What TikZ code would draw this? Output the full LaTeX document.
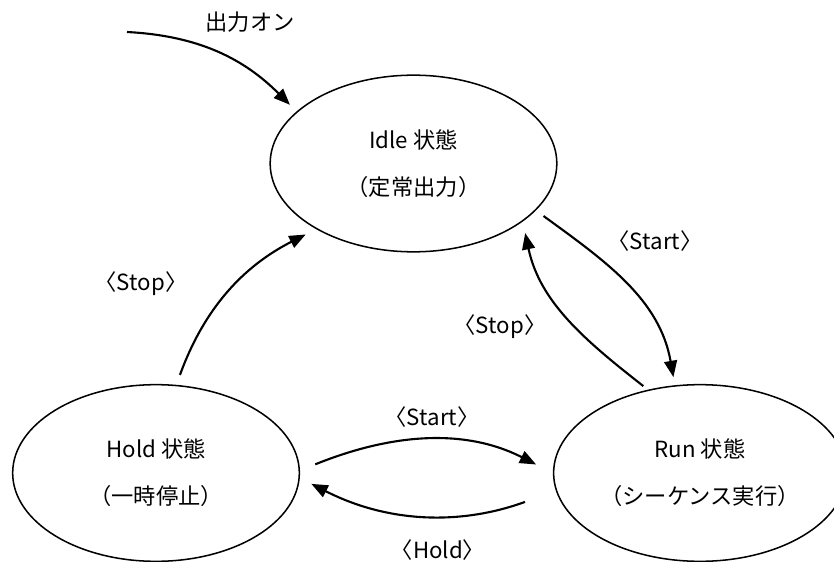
\documentclass[tikz,border=0pt]{standalone}
\usepackage{fontspec}
\setmainfont{Noto Sans CJK JP}
\usetikzlibrary{arrows.meta,shapes.geometric}
\tikzset{
  statebox/.style={draw=black, ellipse, line width=1.3pt, align=center, minimum width=8.6cm, minimum height=5.3cm, font=\fontsize{19}{40}\selectfont},
  tag/.style={font=\fontsize{19}{22}\selectfont},
  arrow/.style={-{Triangle[length=14pt,width=11pt]}, line width=1.8pt, draw=black}
}
\begin{document}
\begin{tikzpicture}
  \useasboundingbox (0,0) rectangle (25.02,-16.86);
  \clip (0,0) rectangle (25.02,-16.86);
  \node[statebox] (idle) at (12.405,-4.905) {Idle 状態\\（定常出力）};
  \node[statebox] (hold) at (4.68,-14.19) {Hold 状態\\（一時停止）};
  \node[statebox] (run) at (21.0,-14.19) {Run 状態\\（シーケンス実行）};
  \coordinate (power) at (3.81,-0.96);
  \node[tag] (poweron) at (7.5,-0.66) {出力オン};
  \node[tag] (idlestart) at (19.65,-7.23) {〈Start〉};
  \node[tag] (runstop) at (15.0,-9.81) {〈Stop〉};
  \node[tag] (holdstop) at (4.23,-8.52) {〈Stop〉};
  \node[tag] (holdstart) at (12.96,-12.51) {〈Start〉};
  \node[tag] (runhold) at (13.14,-16.5) {〈Hold〉};
  \draw[arrow, shorten >=8pt] (power) to[out=-3,in=135] (idle.156);
  \draw[arrow, shorten <=8pt, shorten >=7pt] (idle.-21) to[out=-36,in=100] (run.106);
  \draw[arrow, shorten <=5pt, shorten >=10pt] (run.122) to[out=142,in=-78] (idle.-28);
  \draw[arrow, shorten <=9pt, shorten >=10pt] (hold.77) to[out=70,in=207] (idle.214);
  \draw[arrow, shorten <=14pt, shorten >=16pt] (hold.1) to[out=22,in=153] (run.180);
  \draw[arrow, shorten <=28pt, shorten >=11pt] (run.187) to[out=200,in=-27] (hold.-2);
\end{tikzpicture}
\end{document}
